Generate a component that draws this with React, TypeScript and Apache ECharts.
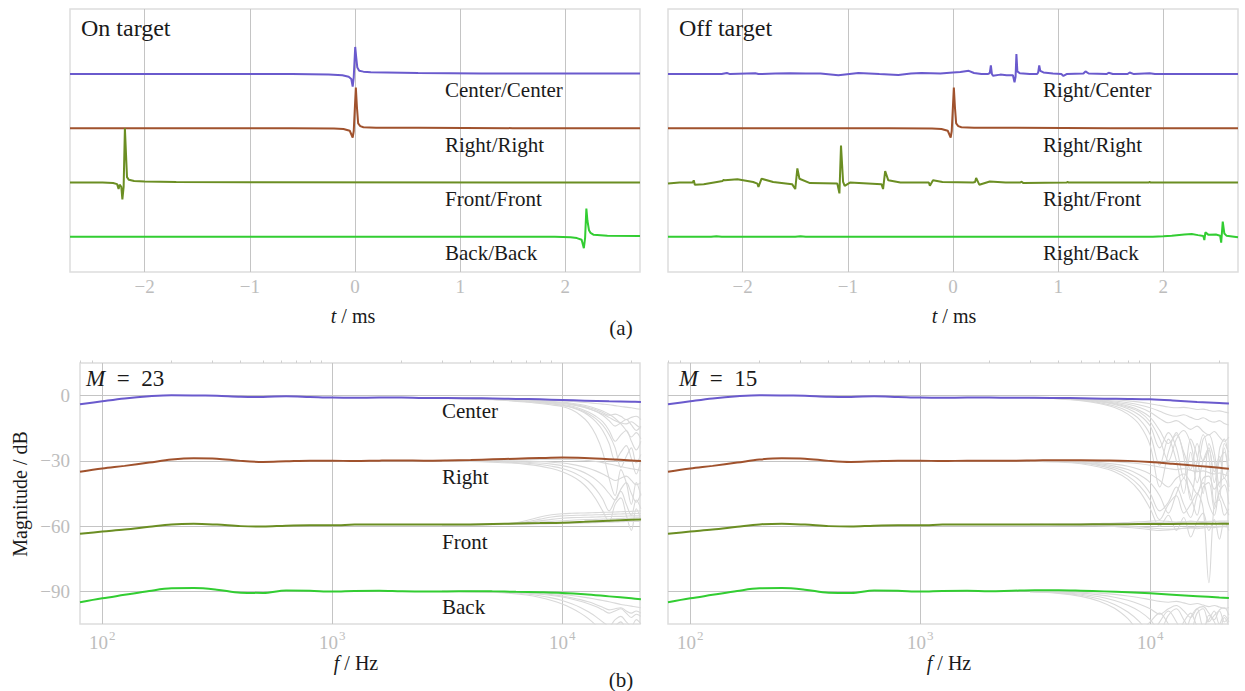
import React, { useEffect, useRef } from 'react';
import * as echarts from 'echarts';

// ---------- colours ----------
const C_CENTER = '#6a5acd';
const C_RIGHT = '#a0522d';
const C_FRONT = '#6b8e23';
const C_BACK = '#32cd32';
const C_GRAY = '#d9d9d9';

// ---------- (a) impulse responses: [t in ms, amplitude] ----------
const timeTicks = [-2, -1, 0, 1, 2];
const timeOffsets = [0, -1, -2, -3];

const onCenterCenter = [[-2.71, 0], [-0.6, 0], [-0.25, -0.01], [-0.12, -0.02], [-0.06, -0.05], [-0.035, -0.09], [-0.022, -0.23], [-0.012, -0.06], [0.002, 0.5], [0.012, 0.3], [0.022, 0.12], [0.04, 0.06], [0.08, 0.045], [0.15, 0.035], [0.3, 0.03], [0.6, 0.02], [1.2, 0.012], [2.71, 0.01]];
const onRightRight = [[-2.71, 0], [-0.6, 0], [-0.2, -0.005], [-0.11, -0.012], [-0.05, -0.045], [-0.022, -0.17], [-0.012, -0.05], [0.008, 0.75], [0.018, 0.4], [0.03, 0.09], [0.05, 0.04], [0.08, 0.02], [0.2, 0.012], [0.6, 0.008], [1.5, 0.003], [2.71, 0]];
const onFrontFront = [[-2.71, 0], [-2.4, 0], [-2.3, -0.01], [-2.262, -0.03], [-2.248, -0.12], [-2.238, -0.04], [-2.222, -0.08], [-2.212, -0.31], [-2.2, -0.08], [-2.188, 1.0], [-2.178, 0.55], [-2.168, 0.1], [-2.15, 0.05], [-2.1, 0.03], [-2.0, 0.02], [-1.7, 0.01], [-1.0, 0.005], [2.71, 0]];
const onBackBack = [[-2.71, 0], [1.9, 0], [2.05, -0.01], [2.11, -0.025], [2.155, -0.055], [2.176, -0.21], [2.188, -0.02], [2.2, 0.52], [2.21, 0.3], [2.225, 0.12], [2.24, 0.07], [2.27, 0.035], [2.4, 0.02], [2.71, 0.013]];

const offRightCenter = [[-2.71, 0], [-2.2, 0], [-2.15, 0.02], [-2.12, 0], [-1.88, 0.015], [-1.85, 0], [-1.69, 0.01], [-1.55, 0.015], [-1.4, 0.01], [-1.26, 0.01], [-1.09, -0.02], [-0.9, 0.02], [-0.7, 0.0], [-0.52, -0.015], [-0.4, 0.01], [-0.3, 0.02], [-0.12, 0.01], [0.0, 0.03], [0.07, 0.04], [0.15, 0.06], [0.2, 0.02], [0.27, 0.0], [0.33, 0.0], [0.35, 0.02], [0.36, 0.16], [0.37, 0.0], [0.38, -0.03], [0.45, -0.01], [0.51, -0.02], [0.57, -0.02], [0.585, -0.15], [0.595, -0.05], [0.603, 0.37], [0.612, 0.05], [0.635, 0.015], [0.73, 0.0], [0.8, 0.0], [0.81, 0.03], [0.82, 0.16], [0.83, 0.06], [0.86, 0.03], [0.95, 0.01], [1.03, 0.0], [1.05, -0.035], [1.08, 0.0], [1.24, 0.01], [1.26, 0.05], [1.29, 0.01], [1.46, 0.0], [1.48, 0.025], [1.52, 0.0], [1.66, 0.0], [1.68, 0.03], [1.72, 0.0], [1.87, 0.015], [1.92, 0.0], [2.71, 0]];
const offRightRight = onRightRight;
const offRightFront = [[-2.71, -0.02], [-2.6, 0], [-2.475, 0.0], [-2.465, 0.04], [-2.455, -0.04], [-2.37, -0.03], [-2.19, 0.03], [-2.18, 0.05], [-2.17, 0.04], [-2.05, 0.06], [-1.9, 0.01], [-1.86, -0.02], [-1.85, -0.08], [-1.82, 0.07], [-1.71, 0.01], [-1.53, -0.03], [-1.5, -0.12], [-1.48, 0.26], [-1.46, 0.07], [-1.36, -0.01], [-1.1, -0.02], [-1.08, -0.2], [-1.065, 0.68], [-1.045, 0.01], [-1.03, -0.06], [-0.98, 0], [-0.68, -0.03], [-0.665, -0.12], [-0.645, 0.21], [-0.615, 0.04], [-0.5, 0], [-0.23, 0], [-0.22, -0.06], [-0.19, 0.04], [-0.1, 0.01], [0.19, 0], [0.21, 0.01], [0.22, 0.085], [0.25, -0.04], [0.35, 0.02], [0.5, 0.0], [0.64, 0.0], [0.65, 0.015], [0.67, -0.01], [1.08, 0], [1.09, 0.01], [1.1, 0], [1.86, 0], [1.87, 0.01], [1.88, 0], [2.71, 0]];
const offRightBack = [[-2.71, 0], [-2.3, 0], [-2.25, 0.01], [-2.2, 0], [-1.5, 0], [-1.45, 0.01], [-1.4, 0], [1.9, 0], [2.0, 0.01], [2.08, 0.02], [2.2, 0.04], [2.27, 0.05], [2.33, 0.03], [2.38, 0.015], [2.39, -0.06], [2.4, 0.08], [2.43, 0.035], [2.5, 0.04], [2.54, 0.02], [2.55, -0.11], [2.565, 0.28], [2.58, 0.06], [2.6, 0.02], [2.71, -0.01]];

// ---------- (b) magnitude responses ----------
const freqTicks = [100, 1000, 10000];
const freqMinor = [80, 90, 200, 300, 400, 500, 600, 700, 800, 900, 2000, 3000, 4000, 5000, 6000, 7000, 8000, 9000, 20000];
const dbTicks = [-90, -60, -30, 0];

const cf = [80, 100, 125, 160, 200, 250, 315, 400, 500, 630, 800, 1000, 1250, 1600, 2000, 2500, 3150, 4000, 5000, 6300, 8000, 10000, 12500, 16000, 20000, 22000];

const center23 = [-4, -2.6, -1.3, -0.3, 0.2, 0.1, -0.1, -0.5, -0.6, -0.3, -0.6, -0.9, -1, -0.9, -0.9, -1.1, -1.1, -1.2, -1.3, -1.5, -1.7, -2, -2.3, -2.6, -2.8, -2.9];
const right23 = [-35, -33.5, -32.3, -30.8, -29.4, -28.8, -29, -30, -30.5, -30.2, -29.9, -29.9, -30.1, -29.9, -29.8, -29.9, -29.8, -29.6, -29.3, -29, -28.7, -28.5, -28.7, -29.2, -29.8, -30.1];
const front23 = [-63.5, -62.5, -61.6, -60.3, -59.2, -58.9, -59.3, -60, -60.2, -59.8, -59.6, -59.6, -59.3, -59.2, -59.3, -59.3, -59.3, -59.2, -59, -58.8, -58.6, -58.4, -58, -57.5, -57.1, -57];
const back23 = [-95, -93.2, -91.6, -89.8, -88.6, -88.5, -89.2, -90.6, -90.7, -89.6, -89.7, -90.1, -89.8, -89.7, -89.9, -90, -90, -89.9, -90, -90.2, -90.4, -90.7, -91.3, -92.3, -93.2, -93.6];

const center15 = [-4, -2.6, -1.3, -0.3, 0.2, 0.1, -0.1, -0.5, -0.6, -0.3, -0.6, -0.9, -1, -0.9, -0.9, -1.0, -1.0, -1.1, -1.2, -1.4, -1.5, -1.7, -2.2, -2.9, -3.4, -3.6];
const right15 = [-35, -33.5, -32.3, -30.8, -29.4, -28.8, -29, -30, -30.5, -30.2, -29.9, -29.9, -30.1, -29.9, -29.9, -29.9, -29.8, -29.7, -29.7, -29.8, -30, -30.5, -31.3, -32.3, -33.2, -33.6];
const front15 = [-63.5, -62.5, -61.6, -60.3, -59.2, -58.9, -59.3, -60, -60.2, -59.8, -59.6, -59.6, -59.3, -59.2, -59.3, -59.3, -59.3, -59.2, -59.2, -59.1, -59.1, -59, -59, -58.9, -58.9, -58.9];
const back15 = [-95, -93.2, -91.6, -89.8, -88.6, -88.5, -89.2, -90.6, -90.7, -89.6, -89.7, -90.1, -89.8, -89.7, -89.9, -89.7, -89.5, -89.5, -89.7, -90, -90.4, -90.9, -91.5, -92.2, -92.8, -93];

// grey (individual) responses, high-frequency part
const gf = [3000, 4000, 5000, 6000, 7000, 8000, 9000, 10000, 11000, 12000, 13000, 14000, 15000, 16000, 17000, 18000, 19000, 20000, 21000, 22000];

const gray23Center = [
  [-1.1, -1.2, -1.3, -1.5, -1.7, -1.9, -2.1, -2.4, -2.7, -3.0, -3.3, -3.6, -3.9, -4.2, -4.6, -5.0, -5.3, -5.6, -6.0, -6.3],
  [-1.1, -1.2, -1.4, -1.7, -2.0, -2.4, -2.8, -3.3, -3.9, -4.6, -5.5, -6.5, -7.8, -9, -8.5, -9.5, -11, -10, -9.5, -11],
  [-1.1, -1.3, -1.5, -1.8, -2.2, -2.6, -3.0, -3.5, -4.1, -4.9, -5.9, -7.2, -9, -11.5, -14, -12.5, -11, -13.5, -16, -14],
  [-1.2, -1.3, -1.6, -2.0, -2.4, -2.9, -3.4, -4.0, -4.8, -6, -7.5, -9.5, -12, -16, -21, -18, -16, -21, -25, -21],
  [-1.2, -1.4, -1.8, -2.2, -2.7, -3.2, -3.8, -4.5, -5.5, -7, -9, -12, -16, -22, -30, -26, -23, -29, -36, -30],
  [-1.2, -1.5, -1.9, -2.4, -3.0, -3.6, -4.3, -5.0, -6.5, -9, -12.5, -18, -26, -38, -46, -34, -40, -50, -40, -46],
  [-1.1, -1.3, -1.5, -1.8, -2.1, -2.5, -3.0, -3.5, -4.2, -5.0, -6.0, -7.2, -8.5, -10, -11.5, -12.5, -13, -12, -13.5, -15],
  [-1.1, -1.2, -1.4, -1.6, -1.9, -2.2, -2.6, -3.0, -3.5, -4.1, -4.9, -5.9, -7.1, -8.6, -10.5, -13, -16, -19, -17, -20],
  [-1.2, -1.4, -1.7, -2.1, -2.6, -3.1, -3.7, -4.4, -5.3, -6.6, -8.3, -10.6, -13.6, -18, -24, -33, -28, -24, -31, -27],
];
const gray23Right = [
  [-29.8, -29.7, -29.6, -29.5, -29.4, -29.3, -29.3, -29.3, -29.4, -29.6, -29.9, -30.3, -30.8, -31.4, -32, -32.6, -33.2, -33.6, -34, -34.4],
  [-29.9, -29.9, -29.9, -30, -30.1, -30.3, -30.6, -31, -31.6, -32.4, -33.4, -34.6, -36, -37.6, -39, -38, -37, -39, -41, -40],
  [-30, -30, -30.1, -30.3, -30.6, -31, -31.5, -32.2, -33.2, -34.6, -36.4, -38.6, -41.5, -45, -48, -43, -40, -45, -49, -45],
  [-30.1, -30.2, -30.4, -30.7, -31.1, -31.7, -32.5, -33.5, -35, -37, -39.5, -43, -47.5, -53, -48, -44, -50, -55, -48, -52],
  [-30.2, -30.3, -30.6, -31, -31.6, -32.4, -33.5, -35, -37, -39.5, -43, -47.5, -53, -58, -50, -47, -55, -62, -52, -57],
];
const gray23Front = [
  [-59.3, -59.3, -59.2, -59, -58, -56.8, -55.8, -55.3, -55.1, -55, -54.9, -54.8, -54.7, -54.6, -54.5, -54.4, -54.3, -54.3, -54.2, -54.2],
  [-59.3, -59.3, -59.2, -59, -58.4, -57.6, -56.9, -56.4, -56.1, -56, -55.9, -55.8, -55.7, -55.6, -55.5, -55.5, -55.4, -55.3, -55.3, -55.2],
  [-59.3, -59.3, -59.1, -58.7, -57.4, -55.8, -54.8, -54.3, -54.1, -54, -53.9, -53.8, -53.7, -53.6, -53.5, -53.4, -53.3, -53.2, -53.1, -53],
  [-59.3, -59.2, -59, -58.7, -58.4, -58.1, -57.8, -57.5, -57.3, -57.1, -57, -56.9, -56.8, -56.7, -56.6, -56.5, -56.4, -56.3, -56.2, -56.1],
  [-59.3, -59.3, -59.3, -59.2, -59.1, -59, -58.9, -58.8, -58.7, -58.6, -58.5, -58.4, -58.3, -58.2, -58.1, -58, -57.9, -57.8, -57.8, -57.7],
];
const gray23Back = [
  [-90, -90, -90.1, -90.2, -90.4, -90.7, -91, -91.4, -91.9, -92.4, -93, -93.6, -94.2, -94.8, -95.4, -96, -96.4, -96.8, -97.2, -97.5],
  [-90, -90, -90.2, -90.4, -90.8, -91.3, -91.9, -92.6, -93.5, -94.5, -95.7, -97, -98.5, -100, -99, -98, -100, -102, -100.5, -101.5],
  [-90, -90.1, -90.3, -90.6, -91.2, -92, -93, -94.2, -95.7, -97.4, -99.4, -101.6, -104, -106, -103, -101.5, -104, -106, -103, -105],
  [-90, -90.1, -90.4, -90.9, -91.7, -92.8, -94.2, -95.8, -97.8, -100, -102.5, -105.5, -109, -110, -106, -104, -108, -110, -106, -108],
  [-90, -90.1, -90.2, -90.4, -90.6, -91, -91.5, -92.1, -92.9, -93.8, -94.8, -96, -97.3, -98.5, -98, -97.5, -99, -100, -99, -100],
];

const gray15Center = [
  [-0.9, -1, -1.2, -1.5, -1.9, -2.4, -3.0, -3.7, -4.5, -5.2, -5.6, -5.4, -5.8, -6.4, -6.2, -6.8, -7.2, -7, -7.5, -8],
  [-0.9, -1.1, -1.4, -1.9, -2.5, -3.3, -4.3, -5.6, -7.2, -8.8, -9.5, -8.8, -10, -11, -10.2, -11.5, -12.2, -11.5, -12.8, -13.5],
  [-1, -1.2, -1.7, -2.4, -3.4, -4.8, -6.8, -10, -16, -22, -18, -26, -34, -22, -30, -25, -35, -28, -38, -32],
  [-1, -1.3, -1.9, -2.8, -4.1, -6, -9, -14, -24, -17, -24, -38, -20, -28, -45, -22, -30, -48, -24, -35],
  [-1, -1.4, -2.1, -3.2, -4.8, -7.2, -11, -18, -32, -20, -30, -45, -26, -40, -30, -24, -40, -30, -26, -42],
  [-1, -1.5, -2.3, -3.6, -5.5, -8.5, -13.5, -23, -42, -26, -17, -28, -48, -30, -18, -28, -50, -25, -20, -30],
  [-0.9, -1.1, -1.5, -2.1, -2.9, -4, -5.5, -7.6, -10.5, -12.5, -11.5, -13.5, -15.5, -14, -16.5, -18, -16.5, -19, -21, -19],
  [-1, -1.3, -1.8, -2.6, -3.7, -5.3, -7.6, -12, -20, -30, -20, -16, -22, -35, -20, -18, -26, -42, -22, -26],
];
const gray15Right = [
  [-29.8, -29.8, -29.9, -30.1, -30.4, -30.8, -31.3, -32, -32.8, -33.5, -34, -33.6, -34.3, -35, -34.6, -35.4, -36, -35.6, -36.3, -37],
  [-29.9, -30, -30.3, -30.8, -31.5, -32.5, -34, -36, -39, -42, -38, -36, -40, -45, -38, -37, -43, -40, -38, -44],
  [-30, -30.2, -30.6, -31.3, -32.4, -34, -36.5, -40, -46, -54, -45, -38, -46, -55, -42, -40, -52, -44, -41, -50],
  [-30, -30.3, -30.8, -31.7, -33.2, -35.5, -39, -45, -53, -49, -42, -50, -56, -46, -40, -50, -55, -45, -50, -55],
  [-30.1, -30.4, -31, -32.2, -34, -37, -41.5, -48, -57, -50, -46, -54, -50, -45, -52, -86, -50, -48, -55, -52],
  [-30.1, -30.5, -31.3, -32.8, -35, -38.5, -44, -52, -60, -55, -62, -56, -65, -58, -54, -62, -57, -66, -58, -62],
];
const gray15Front = [
  [-59.2, -59.2, -59.1, -59, -58.9, -58.8, -58.6, -58.4, -58.3, -58.2, -58.1, -58, -58, -57.9, -57.9, -57.8, -57.8, -57.7, -57.7, -57.6],
  [-59.2, -59.3, -59.4, -59.6, -59.8, -60.1, -60.4, -60.8, -61.2, -61.4, -61.3, -61, -60.7, -60.5, -60.4, -60.3, -60.2, -60.1, -60, -60],
  [-59.2, -59.3, -59.5, -59.8, -60.2, -60.6, -61.1, -61.6, -62, -61.8, -61.4, -61, -60.8, -61.2, -60.8, -60.5, -60.7, -60.4, -60.3, -60.5],
  [-59.2, -59.1, -59, -58.8, -58.6, -58.3, -58, -57.7, -57.5, -57.8, -58.3, -58.1, -57.7, -58, -58.4, -58.1, -57.8, -58.2, -58.4, -58.2],
];
const gray15Back = [
  [-90, -90.1, -90.4, -90.8, -91.4, -92.1, -92.9, -93.8, -94.6, -95, -94.6, -95.3, -96, -95.6, -96.3, -97, -96.5, -97.2, -97.8, -97.4],
  [-90, -90.3, -90.8, -91.6, -92.7, -94.1, -95.9, -98, -100.5, -98, -96.5, -99, -102, -98, -97, -100, -103, -98.5, -97.5, -101],
  [-90.1, -90.5, -91.3, -92.5, -94.2, -96.4, -99.2, -103, -108, -101, -98, -103, -108, -100, -98, -104, -101, -99, -104, -102],
  [-90.1, -90.7, -91.8, -93.5, -96, -99.5, -104, -110, -104, -99, -104, -110, -102, -98, -106, -103, -99, -105, -101, -104],
  [-90.2, -90.9, -92.3, -94.5, -97.8, -102.5, -108, -104, -100, -105, -110, -104, -100, -106, -108, -101, -104, -109, -102, -106],
];

// ---------- text ----------
const labelsOn = ['Center/Center', 'Right/Right', 'Front/Front', 'Back/Back'];
const labelsOff = ['Right/Center', 'Right/Right', 'Right/Front', 'Right/Back'];
const labelsFreq = ['Center', 'Right', 'Front', 'Back'];

const FONT = '"Liberation Serif", "Times New Roman", serif';
const TICK_COLOR = '#bdbdbd';
const GRID_COLOR = '#c4c4c4';
const FRAME_COLOR = '#dddddd';
const TEXT_COLOR = '#1a1a1a';

const minus = (v: number) => (v < 0 ? '\u2212' + Math.abs(v) : String(v));
const logFmt = (v: number) => '{b|10}{s|' + Math.round(Math.log10(v)) + '}';

function timeSeries(pts: number[][], offset: number, color: string, idx: number) {
  return {
    type: 'line', xAxisIndex: idx, yAxisIndex: idx, silent: true, z: 3,
    data: pts.map((p) => [p[0], p[1] + offset]),
    symbol: 'none', showSymbol: false,
    lineStyle: { color, width: 2 }, itemStyle: { color },
  };
}
function freqSeries(freqs: number[], vals: number[], color: string, panel: number, width: number, z: number) {
  return {
    type: 'line', xAxisIndex: 2 + panel, yAxisIndex: 2 + panel, silent: true, z,
    data: freqs.map((f, i) => [f, vals[i]]),
    symbol: 'none', showSymbol: false, smooth: 0.35,
    lineStyle: { color, width }, itemStyle: { color },
  };
}

function text(x: number, y: number, t: string, extra: any = {}) {
  return {
    type: 'text', x, y, silent: true, z: 100,
    style: {
      text: t, fill: TEXT_COLOR, fontSize: 21, fontFamily: FONT,
      align: 'left', verticalAlign: 'middle', textAlign: 'left', textVerticalAlign: 'middle',
      ...extra,
    },
  };
}
const italicRich = (size: number) => ({
  i: { fontStyle: 'italic', fontSize: size, fontFamily: FONT, fill: TEXT_COLOR },
  n: { fontSize: size, fontFamily: FONT, fill: TEXT_COLOR },
});

export default function App() {
  const ref = useRef<HTMLDivElement>(null);
  useEffect(() => {
    if (!ref.current) return;
    const chart = echarts.init(ref.current, undefined, { renderer: 'svg' });

    const grids = [
      { left: 70, top: 9, width: 570, height: 263 },
      { left: 668, top: 9, width: 570, height: 263 },
      { left: 80, top: 363, width: 560, height: 261 },
      { left: 668, top: 363, width: 560, height: 261 },
    ].map((g) => ({ ...g, show: true, borderColor: FRAME_COLOR, borderWidth: 1.5, backgroundColor: 'transparent' }));

    const timeX = (gi: number) => ({
      type: 'value', gridIndex: gi, min: -2.71, max: 2.71,
      axisLine: { show: false },
      axisTick: { show: false, customValues: timeTicks },
      axisLabel: { customValues: timeTicks, formatter: minus, color: TICK_COLOR, fontSize: 19, fontFamily: FONT, margin: 5 },
      splitLine: { show: true, lineStyle: { color: GRID_COLOR, width: 1 } },
    });
    const freqX = (gi: number) => ({
      type: 'log', logBase: 10, gridIndex: gi, min: 80, max: 21800,
      axisLine: { show: false },
      axisTick: { show: true, customValues: freqTicks, length: 4, lineStyle: { color: GRID_COLOR } },
      axisLabel: {
        customValues: freqTicks, formatter: logFmt, color: TICK_COLOR, fontFamily: FONT, margin: 5,
        rich: {
          b: { fontSize: 19, lineHeight: 26, fontFamily: FONT, color: TICK_COLOR },
          s: { fontSize: 13, verticalAlign: 'top', fontFamily: FONT, color: TICK_COLOR, padding: [0, 0, 0, 1] },
        },
      },
      splitLine: { show: true, lineStyle: { color: GRID_COLOR, width: 1 } },
    });
    const minorX = (gi: number) => ({
      type: 'log', logBase: 10, gridIndex: gi, min: 80, max: 21800,
      axisLine: { show: false },
      axisTick: { show: true, customValues: freqMinor, length: 2.5, lineStyle: { color: '#cfcfcf' } },
      axisLabel: { show: false },
      splitLine: { show: false },
    });
    const timeY = (gi: number) => ({
      type: 'value', gridIndex: gi, min: -3.65, max: 1.2,
      axisLine: { show: false }, axisTick: { show: false }, axisLabel: { show: false }, splitLine: { show: false },
    });
    const freqY = (gi: number, labels: boolean) => ({
      type: 'value', gridIndex: gi, min: -105, max: 15,
      axisLine: { show: false },
      axisTick: { show: false, customValues: dbTicks },
      axisLabel: { show: labels, customValues: dbTicks, formatter: minus, color: TICK_COLOR, fontSize: 19, fontFamily: FONT, margin: 10 },
      splitLine: { show: true, lineStyle: { color: GRID_COLOR, width: 1 } },
    });

    const series: any[] = [];
    const onSets = [onCenterCenter, onRightRight, onFrontFront, onBackBack];
    const offSets = [offRightCenter, offRightRight, offRightFront, offRightBack];
    const cols = [C_CENTER, C_RIGHT, C_FRONT, C_BACK];
    onSets.forEach((s, i) => series.push(timeSeries(s, timeOffsets[i], cols[i], 0)));
    offSets.forEach((s, i) => series.push(timeSeries(s, timeOffsets[i], cols[i], 1)));

    const grays23 = [gray23Center, gray23Right, gray23Front, gray23Back];
    const grays15 = [gray15Center, gray15Right, gray15Front, gray15Back];
    grays23.forEach((grp) => grp.forEach((g) => series.push(freqSeries(gf, g, C_GRAY, 0, 1.1, 2))));
    grays15.forEach((grp) => grp.forEach((g) => series.push(freqSeries(gf, g, C_GRAY, 1, 1.1, 2))));
    [center23, right23, front23, back23].forEach((v, i) => series.push(freqSeries(cf, v, cols[i], 0, 2, 4)));
    [center15, right15, front15, back15].forEach((v, i) => series.push(freqSeries(cf, v, cols[i], 1, 2, 4)));

    const graphics: any[] = [
      text(81, 28, 'On target', { fontSize: 24 }),
      text(679, 28, 'Off target', { fontSize: 24 }),
      text(86, 378, '{i|M}{n|  =  23}', { fontSize: 23, rich: italicRich(23) }),
      text(679, 378, '{i|M}{n|  =  15}', { fontSize: 23, rich: italicRich(23) }),
      text(353, 316, '{i|t}{n| / ms}', { align: 'center', textAlign: 'center', fontSize: 20, rich: italicRich(20) }),
      text(954, 316, '{i|t}{n| / ms}', { align: 'center', textAlign: 'center', fontSize: 20, rich: italicRich(20) }),
      text(356, 663, '{i|f}{n| / Hz}', { align: 'center', textAlign: 'center', fontSize: 20, rich: italicRich(20) }),
      text(949, 663, '{i|f}{n| / Hz}', { align: 'center', textAlign: 'center', fontSize: 20, rich: italicRich(20) }),
      text(621, 328, '(a)', { align: 'center', textAlign: 'center', fontSize: 21 }),
      text(621, 680, '(b)', { align: 'center', textAlign: 'center', fontSize: 21 }),
      {
        type: 'text', x: 20, y: 494, rotation: Math.PI / 2, silent: true, z: 100,
        style: { text: 'Magnitude / dB', fill: TEXT_COLOR, fontSize: 20, fontFamily: FONT, align: 'center', verticalAlign: 'middle', textAlign: 'center', textVerticalAlign: 'middle' },
      },
    ];
    const onY = [90, 145, 199, 253];
    labelsOn.forEach((l, i) => graphics.push(text(445, onY[i], l)));
    labelsOff.forEach((l, i) => graphics.push(text(1043, onY[i], l)));
    const fY = [411, 477, 542, 607];
    labelsFreq.forEach((l, i) => graphics.push(text(442, fY[i], l)));

    chart.setOption({
      animation: false,
      backgroundColor: '#ffffff',
      textStyle: { fontFamily: FONT },
      grid: grids,
      xAxis: [timeX(0), timeX(1), freqX(2), freqX(3), minorX(2), minorX(3)],
      yAxis: [timeY(0), timeY(1), freqY(2, true), freqY(3, false)],
      series,
      graphic: graphics,
    });
    return () => chart.dispose();
  }, []);
  return <div ref={ref} style={{ position: 'fixed', left: 0, top: 0, width: 1245, height: 691 }} />;
}
